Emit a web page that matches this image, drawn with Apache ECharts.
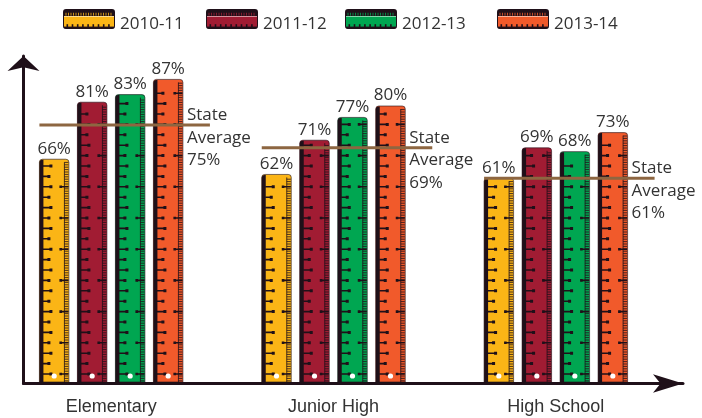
<!DOCTYPE html>
<html><head><meta charset="utf-8">
<script src="https://cdn.jsdelivr.net/npm/echarts@6/dist/echarts.min.js"></script>
<style>html,body{margin:0;padding:0;background:#fff;}#c{width:702px;height:418px;}</style>
</head><body><div id="c"></div>
<script>
// ---- data ----
const categories = ['Elementary', 'Junior High', 'High School'];
const years = ['2010-11', '2011-12', '2012-13', '2013-14'];
const v2010 = [66, 62, 61];
const v2011 = [81, 71, 69];
const v2012 = [83, 77, 68];
const v2013 = [87, 80, 73];
const stateAverage = [75, 69, 61];
const seriesValues = [v2010, v2011, v2012, v2013];

// ---- styles ----
const colors = ['#fbb516', '#a11c33', '#00a651', '#f15a2b'];
const INK = '#1f1019';
const TEXT = '#333333';
const Y_MIN = 7, Y_MAX = 92;
const BAR_W = 29.5, PITCH = 38;
const legendLeft = [63, 206, 345, 497];

function legendIcon(color) {
  const c = document.createElement('canvas');
  c.width = 104; c.height = 60;
  const g = c.getContext('2d');
  g.scale(2, 2);
  function rr(x, y, w, h, r) {
    g.beginPath();
    g.moveTo(x + r, y); g.lineTo(x + w - r, y); g.quadraticCurveTo(x + w, y, x + w, y + r);
    g.lineTo(x + w, y + h - r); g.quadraticCurveTo(x + w, y + h, x + w - r, y + h);
    g.lineTo(x + r, y + h); g.quadraticCurveTo(x, y + h, x, y + h - r);
    g.lineTo(x, y + r); g.quadraticCurveTo(x, y, x + r, y); g.closePath();
  }
  rr(0.5, 0.5, 51, 19, 2.5); g.fillStyle = color; g.fill();
  g.save(); rr(0.5, 0.5, 51, 19, 2.5); g.clip();
  g.fillStyle = INK; g.fillRect(0, 0, 52, 7);
  g.strokeStyle = color; g.lineWidth = 0.8;
  for (let x = 3; x < 50; x += 2.5) { g.beginPath(); g.moveTo(x, 3.8); g.lineTo(x, 6.6); g.stroke(); }
  g.strokeStyle = 'rgba(255,255,255,0.7)'; g.lineWidth = 0.7;
  g.beginPath(); g.moveTo(0, 7.5); g.lineTo(52, 7.5); g.stroke();
  g.fillStyle = INK; g.fillRect(0, 17.6, 52, 3);
  for (let x = 3.5; x < 50; x += 5.2) g.fillRect(x, 15.2, 1.6, 2.6);
  g.restore();
  rr(0.5, 0.5, 51, 19, 2.5); g.strokeStyle = INK; g.lineWidth = 1; g.stroke();
  return 'image://' + c.toDataURL();
}

function sq(x, y, s) { return 'M' + x + ' ' + y + 'h' + s + 'v' + s + 'h' + (-s) + 'Z'; }

function rulerRender(idx) {
  return function (params, api) {
    const cat = api.value(0), val = api.value(1);
    const top = api.coord([cat, val]);
    const base = api.coord([cat, Y_MIN]);
    const cx = top[0] + (idx - 1.5) * PITCH;
    const x0 = cx - BAR_W / 2, x1 = cx + BAR_W / 2;
    const y0 = top[1], y1 = base[1] - 1.5;
    let thin = '', thick = '', dots = '';
    const lx = x1 - 4.5;
    thin += 'M' + lx + ' ' + (y0 + 3) + 'L' + lx + ' ' + y1;
    for (let y = y1 - 1.2; y > y0 + 3; y -= 2.4) thin += 'M' + lx + ' ' + y + 'L' + (x1 - 0.5) + ' ' + y;
    let k = 0;
    for (let y = y1 - 8; y > y0 + 4; y -= 10.4, k++) {
      const len = (k % 2 === 0) ? 7.5 : 5.5;
      thick += 'M' + (x0 + 3.5) + ' ' + y + 'L' + (x0 + 3.5 + len) + ' ' + y;
      dots += sq(x0 + 2.5 + len, y - 1.5, 3);
    }
    for (let y = y1 - 8; y > y0 + 4; y -= 31.2) {
      thick += 'M' + (x1 - 0.5) + ' ' + y + 'L' + (x1 - 8) + ' ' + y;
      dots += sq(x1 - 9.5, y - 1.3, 2.6);
    }
    const h = y1 - y0;
    return {
      type: 'group',
      children: [
        { type: 'rect', shape: { x: x0, y: y0, width: BAR_W, height: h, r: [3, 3, 0, 0] }, style: { fill: colors[idx] } },
        { type: 'rect', shape: { x: x0, y: y0 + 0.5, width: 4, height: h - 0.5, r: [3, 0, 0, 0] }, style: { fill: INK } },
        { type: 'path', shape: { pathData: thin }, style: { fill: null, stroke: INK, lineWidth: 0.8 } },
        { type: 'path', shape: { pathData: thick }, style: { fill: null, stroke: INK, lineWidth: 1.6 } },
        { type: 'path', shape: { pathData: dots }, style: { fill: INK } },
        { type: 'circle', shape: { cx: cx, cy: y1 - 6, r: 2.6 }, style: { fill: '#ffffff' } },
        { type: 'rect', shape: { x: x0, y: y0, width: BAR_W, height: h, r: [3, 3, 0, 0] }, style: { fill: null, stroke: 'rgba(31,16,25,0.6)', lineWidth: 1 } },
        { type: 'text', style: { text: val + '%', x: cx, y: y0 - 10.5, align: 'center', verticalAlign: 'middle', fontFamily: 'Open Sans', fontSize: 17, fill: TEXT } }
      ]
    };
  };
}

function avgRender(params, api) {
  const cat = api.value(0), val = api.value(1);
  const p = api.coord([cat, val]);
  const left = p[0] - 1.5 * PITCH - BAR_W / 2;
  const lastRight = p[0] + 1.5 * PITCH + BAR_W / 2;
  return {
    type: 'group',
    children: [
      { type: 'line', shape: { x1: left, y1: p[1], x2: lastRight + 27, y2: p[1] }, style: { stroke: '#8d6641', lineWidth: 3 } },
      { type: 'text', style: { text: 'State\nAverage\n' + val + '%', x: lastRight + 4, y: p[1] - 21, align: 'left', verticalAlign: 'top', lineHeight: 22.5, fontFamily: 'Open Sans', fontSize: 17, fill: TEXT } }
    ]
  };
}

const series = years.map((name, i) => ({
  name: name,
  type: 'custom',
  xAxisIndex: 0, yAxisIndex: 0,
  renderItem: rulerRender(i),
  encode: { x: 0, y: 1 },
  data: seriesValues[i].map((v, c) => [c, v]),
  z: 3
}));
series.push({
  name: 'State Average',
  type: 'custom',
  xAxisIndex: 0, yAxisIndex: 0,
  renderItem: avgRender,
  encode: { x: 0, y: 1 },
  data: stateAverage.map((v, c) => [c, v]),
  z: 4
});

const chart = echarts.init(document.getElementById('c'));
chart.setOption({
  animation: false,
  backgroundColor: '#ffffff',
  legend: years.map((y, i) => ({
    data: [{ name: y, icon: legendIcon(colors[i]) }],
    left: legendLeft[i], top: 9, padding: 0,
    itemWidth: 52, itemHeight: 30, selectedMode: false,
    textStyle: { fontFamily: 'Open Sans', fontSize: 17, color: TEXT }
  })),
  grid: [
    { left: 0, width: 667, top: 60.4, bottom: 34.5 },
    { left: 23.5, right: 19, top: 56, bottom: 34.5 }
  ],
  xAxis: [
    { type: 'category', gridIndex: 0, data: categories,
      axisLine: { show: false }, axisTick: { show: false }, splitLine: { show: false },
      axisLabel: { fontFamily: 'Liberation Sans', fontSize: 18, color: TEXT, margin: 15 } },
    { type: 'value', gridIndex: 1, min: 0, max: 1,
      axisLine: { show: true, symbol: ['none', 'arrow'], symbolSize: [14, 30], lineStyle: { color: INK, width: 3 } },
      axisTick: { show: false }, axisLabel: { show: false }, splitLine: { show: false } }
  ],
  yAxis: [
    { type: 'value', gridIndex: 0, min: Y_MIN, max: Y_MAX, show: false, splitLine: { show: false } },
    { type: 'value', gridIndex: 1, min: 0, max: 1,
      axisLine: { show: true, symbol: ['none', 'arrow'], symbolSize: [24, 15], lineStyle: { color: INK, width: 3 } },
      axisTick: { show: false }, axisLabel: { show: false }, splitLine: { show: false } }
  ],
  series: series
});
</script>
</body></html>
